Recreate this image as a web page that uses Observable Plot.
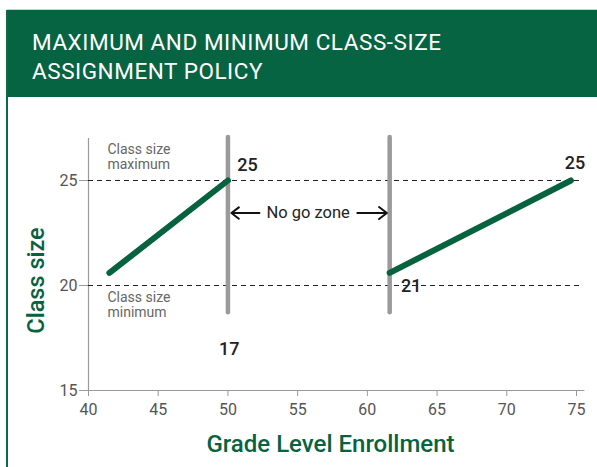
<!DOCTYPE html>
<html>
<head>
<meta charset="utf-8">
<script src="https://cdn.jsdelivr.net/npm/d3@7"></script>
<script src="https://cdn.jsdelivr.net/npm/@observablehq/plot@0.6"></script>
<style>
  html, body { margin: 0; padding: 0; background: #fff; }
  body { width: 597px; height: 467px; position: relative; overflow: hidden; font-family: Roboto, "Open Sans", sans-serif; }
  #topline { position: absolute; left: 7px; top: 9px; width: 590px; height: 1px; background: #cfcfcf; }
  #leftline { position: absolute; left: 6px; top: 10px; width: 1.5px; height: 457px; background: #0b6a47; z-index: 3; }
  #header { position: absolute; left: 7px; top: 10px; width: 590px; height: 87px; background: #076442; }
  #title { position: absolute; left: 32px; top: 28px; color: #fff; font-size: 22.5px; line-height: 28.5px; letter-spacing: 0.55px; font-family: Roboto, sans-serif; }
  #chart { position: absolute; left: 0; top: 97px; }
</style>
</head>
<body>
<div id="topline"></div>
<div id="header"></div>
<div id="title">MAXIMUM AND MINIMUM CLASS-SIZE<br>ASSIGNMENT POLICY</div>
<div id="leftline"></div>
<div id="chart"></div>
<script>
const xTicks = [40, 45, 50, 55, 60, 65, 70, 75];
const yTicks = [15, 20, 25];
const lowEnrollment = [41.5, 50];
const lowClassSize = [20.6, 25];
const highEnrollment = [61.6, 74.6];
const highClassSize = [20.6, 25];
const splitPoints = [50, 61.6];
const limitValues = [20, 25];
const limitText = ["Class size\nminimum", "Class size\nmaximum"];
const limitTextY = [19.08, 26.12];
const valueText = ["25", "17", "21", "25"];
const valueX = [51.4, 50.1, 63.15, 74.9];
const valueY = [25.74, 16.95, 19.95, 25.8];
const zoneText = "No go zone";
const zoneX = 55.75;
const zoneY = 23.45;

const green = "#07633f";
const lowLine = lowEnrollment.map((x, i) => ({x, y: lowClassSize[i]}));
const highLine = highEnrollment.map((x, i) => ({x, y: highClassSize[i]}));
const limits = limitValues.map((v, i) => ({v, text: limitText[i], ty: limitTextY[i]}));
const values = valueText.map((t, i) => ({t, x: valueX[i], y: valueY[i]}));

const chart = Plot.plot({
  width: 597,
  height: 370,
  marginLeft: 88,
  marginRight: 21,
  marginTop: 41,
  marginBottom: 77,
  x: {domain: [40, 75]},
  y: {domain: [15, 27]},
  style: {background: "transparent", fontFamily: "Roboto, sans-serif"},
  marks: [
    Plot.axisX({ticks: xTicks, tickSize: 6, tickPadding: 7, stroke: "#9a9a9a", fill: "#555", fontSize: 16, label: null, tickFormat: d => String(d)}),
    Plot.axisY({ticks: yTicks, tickSize: 9, tickPadding: 2, stroke: "#9a9a9a", fill: "#555", fontSize: 16, label: null, tickFormat: d => String(d)}),
    Plot.ruleY([15], {x1: 40, x2: 75.6, stroke: "#9a9a9a", strokeWidth: 1.2}),
    Plot.ruleX([40], {y1: 15, y2: 27, stroke: "#9a9a9a", strokeWidth: 1.2}),
    Plot.ruleY(limits, {y: "v", x1: 40, x2: 75.5, stroke: "#222", strokeWidth: 1, strokeDasharray: "5,4"}),
    Plot.text(limits, {x: 41.36, y: "ty", text: "text", textAnchor: "start", fontSize: 14, lineHeight: 1.05, fill: "#666"}),
    Plot.ruleX(splitPoints, {y1: 18.7, y2: 27.05, stroke: "#9a9a9a", strokeWidth: 4.5, strokeLinecap: "round"}),
    Plot.line(lowLine, {x: "x", y: "y", stroke: green, strokeWidth: 6, strokeLinecap: "round"}),
    Plot.line(highLine, {x: "x", y: "y", stroke: green, strokeWidth: 6, strokeLinecap: "round"}),
    Plot.arrow([{x1: 52.26, x2: 50.25, y: zoneY}], {x1: "x1", x2: "x2", y1: "y", y2: "y", stroke: "#111", strokeWidth: 2, headLength: 11, headAngle: 75}),
    Plot.arrow([{x1: 59.28, x2: 61.4, y: zoneY}], {x1: "x1", x2: "x2", y1: "y", y2: "y", stroke: "#111", strokeWidth: 2, headLength: 11, headAngle: 75}),
    Plot.text([zoneText], {x: zoneX, y: zoneY, text: d => d, fontSize: 16.5, fill: "#222"}),
    Plot.text(values, {x: "x", y: "y", text: "t", fontSize: 18, fill: "#222", fontWeight: 500}),
    Plot.text(["Class size"], {x: 40, y: 20.24, rotate: -90, dx: -52, fill: green, fontSize: 23.5, fontWeight: 500}),
    Plot.text(["Grade Level Enrollment"], {frameAnchor: "bottom", dx: -2, dy: 61, fill: green, fontSize: 24, fontWeight: 500})
  ]
});
document.getElementById("chart").appendChild(chart);
</script>
</body>
</html>
